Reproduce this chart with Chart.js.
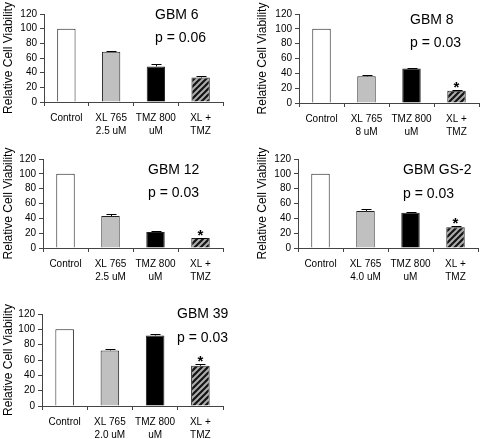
<!DOCTYPE html>
<html>
<head>
<meta charset="utf-8">
<script src="https://cdn.jsdelivr.net/npm/chart.js@4.4.1/dist/chart.umd.min.js"></script>
<style>
  body { margin: 0; background: #fff; }
  #fig { position: relative; width: 480px; height: 439px; overflow: hidden; }
  canvas { position: absolute; }
</style>
</head>
<body>
<div id="fig">
  <canvas id="p0" width="240" height="145" style="left:0;top:0"></canvas>
  <canvas id="p1" width="226" height="145" style="left:254px;top:0"></canvas>
  <canvas id="p2" width="240" height="145" style="left:0;top:145px"></canvas>
  <canvas id="p3" width="226" height="145" style="left:254px;top:145px"></canvas>
  <canvas id="p4" width="240" height="149" style="left:0;top:290px"></canvas>
</div>
<script>
// cell line of each panel and the p value printed under it
const panelTitles = ["GBM 6", "GBM 8", "GBM 12", "GBM GS-2", "GBM 39"];
const pLabels = ["p = 0.06", "p = 0.03", "p = 0.03", "p = 0.03", "p = 0.03"];
// XL 765 dose used for each line
const xlDoses = ["2.5 uM", "8 uM", "2.5 uM", "4.0 uM", "2.0 uM"];
// relative cell viability: Control, XL 765, TMZ 800 uM, XL + TMZ
const viability = [
  [100, 68.5, 48.5, 33.5],
  [100, 36, 46.5, 16.5],
  [100, 43, 21.5, 13.5],
  [100, 50, 47.5, 28],
  [100, 72.5, 92, 52.5],
];
// upper error bars
const viabilityErr = [
  [0, 1.5, 4, 2.5],
  [0, 1.2, 1, 0.5],
  [0, 3, 1, 0.5],
  [0, 3, 1, 1.5],
  [0, 1.5, 2.5, 2.5],
];
// star over XL + TMZ
const starred = [false, true, true, true, true];
const yTickValues = [0, 20, 40, 60, 80, 100, 120];

const FONT = "'Liberation Sans', Arial, sans-serif";
const AXIS = "#444";

// where each panel sits inside its canvas
const boxes = [
  { axisW: 44, padTop: 14, padRight: 17, xH: 43, dx: 111, titleDy: 1, pDy: 24 },
  { axisW: 45, padTop: 14, padRight: 1, xH: 42, dx: 111, titleDy: 6, pDy: 29 },
  { axisW: 43, padTop: 14, padRight: 17, xH: 42, dx: 105, titleDy: 11, pDy: 34 },
  { axisW: 44, padTop: 14, padRight: 2, xH: 42, dx: 105, titleDy: 11, pDy: 35 },
  { axisW: 42, padTop: 24, padRight: 17, xH: 33, dx: 135, titleDy: 0, pDy: 24 },
];

// diagonal hatch for the combination bar
function makeHatch() {
  const c = document.createElement("canvas");
  c.width = 6; c.height = 6;
  const g = c.getContext("2d");
  g.fillStyle = "#141414";
  g.fillRect(0, 0, 6, 6);
  g.strokeStyle = "#adadad";
  g.lineWidth = 2;
  g.beginPath();
  g.moveTo(-1, 7); g.lineTo(7, -1);
  g.moveTo(-4, 4); g.lineTo(4, -4);
  g.moveTo(2, 10); g.lineTo(10, 2);
  g.stroke();
  return g.createPattern(c, "repeat");
}
const hatch = makeHatch();
const barColors = ["#ffffff", "#c0c0c0", "#000000", hatch];

// error bars, star and panel text
const overlay = {
  id: "overlay",
  afterDatasetsDraw(chart, args, opts) {
    const ctx = chart.ctx;
    const ys = chart.scales.y;
    const bars = chart.getDatasetMeta(0).data;
    const vals = chart.data.datasets[0].data;
    ctx.save();
    ctx.strokeStyle = "#000";
    ctx.lineWidth = 1;
    bars.forEach((bar, i) => {
      const e = opts.err[i];
      if (!e) return;
      const top = Math.round(ys.getPixelForValue(vals[i] + e)) + 0.5;
      const x = Math.round(bar.x) + 0.5;
      ctx.beginPath();
      ctx.moveTo(x, bar.y);
      ctx.lineTo(x, top);
      ctx.moveTo(x - 5, top);
      ctx.lineTo(x + 5, top);
      ctx.stroke();
    });
    ctx.fillStyle = "#000";
    if (opts.star) {
      const i = vals.length - 1;
      const top = ys.getPixelForValue(vals[i] + opts.err[i]);
      ctx.font = "bold 15px " + FONT;
      ctx.textAlign = "center";
      ctx.textBaseline = "alphabetic";
      ctx.fillText("*", bars[i].x, top + 2);
    }
    const a = chart.chartArea;
    ctx.font = "14px " + FONT;
    ctx.textAlign = "left";
    ctx.textBaseline = "middle";
    ctx.fillText(opts.title, a.left + opts.dx, a.top + opts.titleDy);
    ctx.fillText(opts.p, a.left + opts.dx, a.top + opts.pDy);
    ctx.restore();
  },
};

viability.forEach((vals, k) => {
  const b = boxes[k];
  new Chart(document.getElementById("p" + k), {
    type: "bar",
    plugins: [overlay],
    data: {
      labels: ["Control", ["XL 765", xlDoses[k]], ["TMZ 800", "uM"], ["XL +", "TMZ"]],
      datasets: [{
        data: vals,
        backgroundColor: barColors,
        borderColor: "#222",
        borderWidth: 1,
        categoryPercentage: 1,
        barPercentage: 0.41,
      }],
    },
    options: {
      responsive: false,
      animation: false,
      devicePixelRatio: 1,
      layout: { padding: { top: b.padTop, right: b.padRight, left: 0, bottom: 0 } },
      plugins: {
        legend: { display: false },
        tooltip: { enabled: false },
        overlay: {
          err: viabilityErr[k], star: starred[k],
          title: panelTitles[k], p: pLabels[k],
          dx: b.dx, titleDy: b.titleDy, pDy: b.pDy,
        },
      },
      scales: {
        x: {
          afterFit: (s) => { s.height = b.xH; },
          border: { color: AXIS },
          grid: { offset: true, drawOnChartArea: false, tickLength: 4, color: AXIS },
          ticks: {
            autoSkip: false, maxRotation: 0, minRotation: 0, padding: 5, color: "#000",
            font: { family: FONT, size: 10, lineHeight: 1.35 },
          },
        },
        y: {
          min: 0, max: 120,
          afterFit: (s) => { s.width = b.axisW; },
          afterBuildTicks: (s) => { s.ticks = yTickValues.map((v) => ({ value: v })); },
          border: { color: AXIS },
          grid: { drawOnChartArea: false, tickLength: 4, color: AXIS },
          ticks: { autoSkip: false, padding: 3, color: "#000", font: { family: FONT, size: 10 } },
          title: {
            display: true, text: "Relative Cell Viability", color: "#000",
            font: { family: FONT, size: 12 }, padding: { top: 1, bottom: 0 },
          },
        },
      },
    },
  });
});
</script>
</body>
</html>
